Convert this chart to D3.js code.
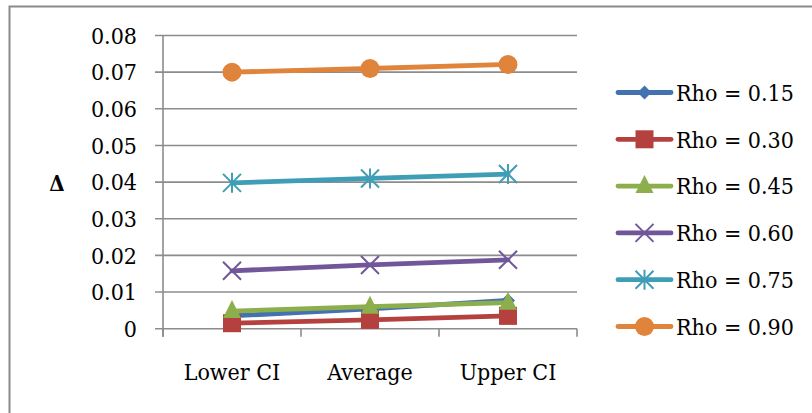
<!DOCTYPE html>
<html><head><meta charset="utf-8">
<script src="https://cdn.jsdelivr.net/npm/d3@7"></script>
<style>body{margin:0;background:#fff}svg{display:block}</style>
</head><body>
<script>
const categories = ["Lower CI", "Average", "Upper CI"];
const seriesNames = ["Rho = 0.15", "Rho = 0.30", "Rho = 0.45", "Rho = 0.60", "Rho = 0.75", "Rho = 0.90"];
const rho015 = [0.0035, 0.0054, 0.0077];
const rho030 = [0.0015, 0.0024, 0.0035];
const rho045 = [0.0048, 0.0060, 0.0071];
const rho060 = [0.0158, 0.0174, 0.0188];
const rho075 = [0.0398, 0.0410, 0.0422];
const rho090 = [0.0700, 0.0710, 0.0721];
const yTicks = [0, 0.01, 0.02, 0.03, 0.04, 0.05, 0.06, 0.07, 0.08];
const colors = ["#4472B0", "#B5413E", "#8CAE4C", "#71579A", "#3F9DB6", "#E0843C"];
const markerTypes = ["diamond", "square", "triangle", "x", "star", "circle"];
const seriesValues = [rho015, rho030, rho045, rho060, rho075, rho090];

const W = 812, H = 413;
const svg = d3.select("body").append("svg").attr("width", W).attr("height", H);
const font = "'DejaVu Serif Condensed', 'DejaVu Serif', serif";
const fs = 23;

// outer frame
svg.append("rect").attr("x", 9.5).attr("y", 6.5).attr("width", 900).attr("height", 500)
  .attr("fill", "none").attr("stroke", "#8a8a8a").attr("stroke-width", 2);

const x0 = 163, x1 = 577, yTop = 35.5, yBot = 328.7;
const x = d3.scaleBand().domain(categories).range([x0, x1]);
const y = d3.scaleLinear().domain([0, 0.08]).range([yBot, yTop]);

// gridlines
svg.append("g").selectAll("line").data(yTicks).join("line")
  .attr("x1", 155).attr("x2", x1).attr("y1", d => y(d)).attr("y2", d => y(d))
  .attr("stroke", "#8c8c8c").attr("stroke-width", 1.6);

// y axis line
svg.append("line").attr("x1", x0).attr("x2", x0).attr("y1", yTop).attr("y2", yBot + 8)
  .attr("stroke", "#8c8c8c").attr("stroke-width", 1.6);
// x axis ticks
const xt = [x0, ...categories.map(c => x(c) + x.bandwidth())];
svg.append("g").selectAll("line").data(xt).join("line")
  .attr("x1", d => d).attr("x2", d => d).attr("y1", yBot).attr("y2", yBot + 8)
  .attr("stroke", "#8c8c8c").attr("stroke-width", 1.6);

// y tick labels
svg.append("g").selectAll("text").data(yTicks).join("text")
  .attr("x", 137).attr("y", d => y(d)).attr("dy", "0.36em")
  .attr("text-anchor", "end").attr("font-family", font).attr("font-size", fs)
  .attr("fill", "#000").text(d => d === 0 ? "0" : d.toFixed(2));

// x labels
svg.append("g").selectAll("text").data(categories).join("text")
  .attr("x", d => x(d) + x.bandwidth() / 2).attr("y", 380)
  .attr("text-anchor", "middle").attr("font-family", font).attr("font-size", fs)
  .attr("fill", "#000").text(d => d);

// Delta label
svg.append("text").attr("x", 57).attr("y", 183).attr("dy", "0.36em").attr("text-anchor", "middle")
  .attr("font-family", font).attr("font-size", 22).attr("font-weight", "bold").text("Δ");

function drawMarker(g, type, cx, cy, color) {
  if (type === "diamond") {
    g.append("path").attr("d", `M${cx},${cy-7}L${cx+7},${cy}L${cx},${cy+7}L${cx-7},${cy}Z`).attr("fill", color);
  } else if (type === "square") {
    g.append("rect").attr("x", cx - 9).attr("y", cy - 9).attr("width", 18).attr("height", 18).attr("fill", color);
  } else if (type === "triangle") {
    g.append("path").attr("d", `M${cx},${cy-11}L${cx+9},${cy+7}L${cx-9},${cy+7}Z`).attr("fill", color);
  } else if (type === "x") {
    g.append("path").attr("d", `M${cx-9},${cy-9}L${cx+9},${cy+9}M${cx-9},${cy+9}L${cx+9},${cy-9}`)
      .attr("stroke", color).attr("stroke-width", 2);
  } else if (type === "star") {
    g.append("path").attr("d", `M${cx-9},${cy-9}L${cx+9},${cy+9}M${cx-9},${cy+9}L${cx+9},${cy-9}M${cx},${cy-10}L${cx},${cy+10}`)
      .attr("stroke", color).attr("stroke-width", 2);
  } else if (type === "circle") {
    g.append("circle").attr("cx", cx).attr("cy", cy).attr("r", 9.5).attr("fill", color);
  }
}

const line = d3.line().x((d, i) => x(categories[i]) + x.bandwidth() / 2).y(d => y(d));
seriesValues.forEach((vals, si) => {
  const g = svg.append("g");
  g.append("path").datum(vals).attr("d", line).attr("fill", "none")
    .attr("stroke", colors[si]).attr("stroke-width", 4.8).attr("stroke-linecap", "round");
  vals.forEach((v, i) => drawMarker(g, markerTypes[si], x(categories[i]) + x.bandwidth() / 2, y(v), colors[si]));
});

// legend
const ly = d3.scalePoint().domain(seriesNames).range([92.5, 326.5]);
seriesNames.forEach((name, si) => {
  const g = svg.append("g");
  const yy = ly(name);
  g.append("line").attr("x1", 618).attr("x2", 671).attr("y1", yy).attr("y2", yy)
    .attr("stroke", colors[si]).attr("stroke-width", 4.8).attr("stroke-linecap", "round");
  drawMarker(g, markerTypes[si], 644.5, yy, colors[si]);
  g.append("text").attr("x", 676).attr("y", yy).attr("dy", "0.36em")
    .attr("font-family", font).attr("font-size", fs).attr("fill", "#000").text(name);
});
</script>
</body></html>
